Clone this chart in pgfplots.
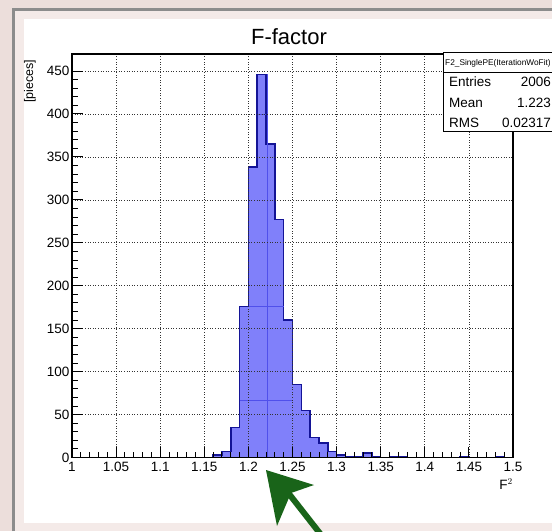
\documentclass[border=0pt]{standalone}
\usepackage{fontspec}
\setmainfont{Liberation Sans}
\usepackage{pgfplots}
\pgfplotsset{compat=1.18}
\definecolor{bgpink}{RGB}{236,222,219}
\definecolor{bandpink}{RGB}{244,234,232}
\definecolor{framegray}{RGB}{140,140,140}
\definecolor{histfill}{RGB}{128,128,250}
\definecolor{histline}{RGB}{20,20,150}
\definecolor{histinner}{RGB}{80,80,235}
\definecolor{arrowgreen}{RGB}{25,100,25}

\begin{document}
\begin{tikzpicture}[x=1pt, y=1pt]
  \useasboundingbox (0,0) rectangle (552,531);
  \clip (0,0) rectangle (552,531);
  % backdrop
  \fill[bgpink] (0,0) rectangle (552,531);
  \fill[bandpink] (13,0) rectangle (552,522);
  \draw[framegray, line width=3pt] (13.5,0) -- (13.5,521.5) -- (552,521.5);
  \fill[white] (24,8) rectangle (552,512);

  \begin{axis}[
      at={(72pt,73.5pt)}, anchor=south west,
      scale only axis, width=441pt, height=403.5pt,
      xmin=1, xmax=1.5, ymin=0, ymax=469.8,
      xtick={1,1.05,1.1,1.15,1.2,1.25,1.3,1.35,1.4,1.45,1.5},
      xticklabels={1,1.05,1.1,1.15,1.2,1.25,1.3,1.35,1.4,1.45,1.5},
      ytick={0,50,100,150,200,250,300,350,400,450},
      minor x tick num=4, minor y tick num=4,
      xtick pos=left, ytick pos=left,
      tick align=inside,
      major tick length=11pt, minor tick length=5.5pt,
      tick style={black, line width=0.9pt},
      axis line style={black, line width=1.3pt},
      grid=major,
      major grid style={black!80, line width=0.6pt, dash pattern=on 0.8pt off 1.8pt},
      axis on top,
      /pgf/number format/assume math mode=true,
      ticklabel style={font=\fontsize{13.5}{15}\selectfont},
      xticklabel style={yshift=-1pt},
      yticklabel style={xshift=1pt},
    ]
    \addplot[const plot, fill=histfill, draw=histline, line width=1.5pt]
      coordinates {
        (1.00,0) (1.01,0) (1.02,0) (1.03,0) (1.04,0)
        (1.05,0) (1.06,0) (1.07,0) (1.08,0) (1.09,0)
        (1.10,0) (1.11,0) (1.12,0) (1.13,0) (1.14,0)
        (1.15,0) (1.16,3) (1.17,7) (1.18,35) (1.19,176)
        (1.20,338) (1.21,446) (1.22,365) (1.23,277) (1.24,160)
        (1.25,85) (1.26,55) (1.27,23) (1.28,17) (1.29,7)
        (1.30,3) (1.31,1) (1.32,1) (1.33,5) (1.34,1)
        (1.35,0) (1.36,1) (1.37,1) (1.38,0) (1.39,0)
        (1.40,0) (1.41,0) (1.42,0) (1.43,0) (1.44,1)
        (1.45,0) (1.46,0) (1.47,0) (1.48,1) (1.49,0)
        (1.50,0)
      } \closedcycle;
    % faint internal lines of the filled histogram
    \draw[histinner, line width=0.7pt] (axis cs:1.20,176) -- (axis cs:1.24,176);
    \draw[histinner, line width=0.7pt] (axis cs:1.19,66) -- (axis cs:1.25,66);
    \draw[histinner, line width=0.7pt] (axis cs:1.21,400) -- (axis cs:1.22,400);
    \draw[histinner, line width=0.7pt] (axis cs:1.2215,0) -- (axis cs:1.2215,446);
  \end{axis}

  % title and axis titles
  \node[font=\fontsize{22}{26}\selectfont] at (289,494) {F-factor};
  \node[rotate=90, anchor=east, font=\fontsize{12.5}{14}\selectfont] at (30,475) {[pieces]};
  \node[anchor=east, inner sep=0pt, font=\fontsize{13.5}{15}\selectfont] at (513,47) {F$^{2}$};

  % stats box
  \draw[fill=white, line width=1pt] (443,478) rectangle (560,399);
  \draw[line width=1pt] (443,458) -- (560,458);
  \node[anchor=west, inner sep=0pt, font=\fontsize{8.3}{10}\selectfont] at (445,468) {F2\_SinglePE(IterationWoFit)};
  \begin{scope}[font=\fontsize{13.5}{15}\selectfont]
    \node[anchor=west, inner sep=0pt] at (449,449) {Entries};
    \node[anchor=east, inner sep=0pt] at (551,449) {2006};
    \node[anchor=west, inner sep=0pt] at (449,428) {Mean};
    \node[anchor=east, inner sep=0pt] at (551,428) {1.223};
    \node[anchor=west, inner sep=0pt] at (449,408) {RMS};
    \node[anchor=east, inner sep=0pt] at (551,408) {0.02317};
  \end{scope}

  % hand-drawn green arrow
  \fill[arrowgreen] (266,61) -- (314,46) -- (291,38) -- (277,5) -- cycle;
  \draw[arrowgreen, line width=6pt] (286,41) -- (322,-5);
\end{tikzpicture}
\end{document}
